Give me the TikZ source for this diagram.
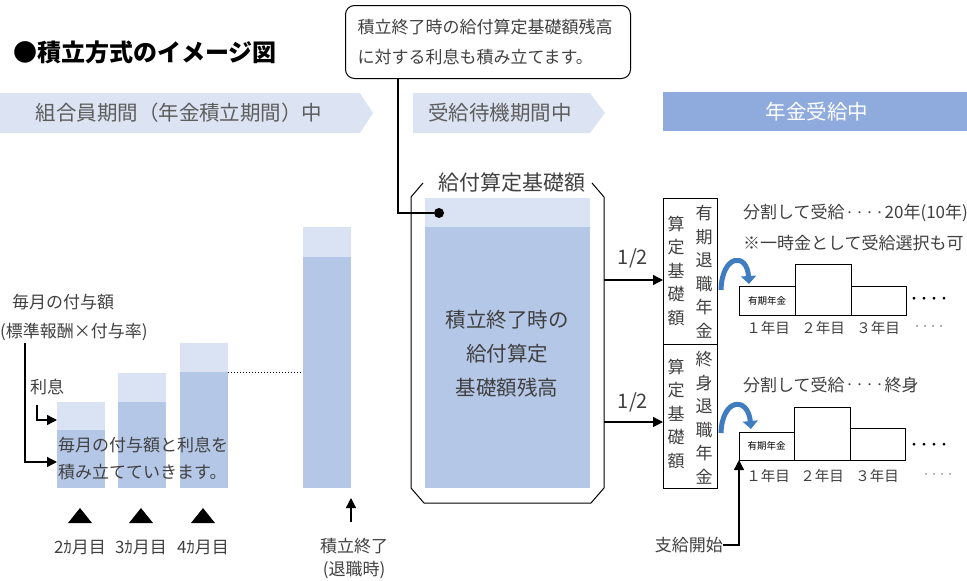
\documentclass[tikz,border=0pt]{standalone}
\usepackage{fontspec}
\setmainfont{Noto Sans CJK JP}
\usetikzlibrary{arrows.meta}

\definecolor{bandgray}{HTML}{DCE3F2}
\definecolor{bandblue}{HTML}{8FAADC}
\definecolor{barlight}{HTML}{DAE3F3}
\definecolor{bardark}{HTML}{B4C7E7}
\definecolor{txtgray}{HTML}{404040}
\definecolor{curveblue}{HTML}{3F7CC0}
\newcommand{\fsz}[1]{\fontsize{#1}{#1}\selectfont}
\newcommand{\middots}{{\fsz{10}\raisebox{2.5pt}{・・・・}}}

\tikzset{
  lbl/.style={text=txtgray, inner sep=0pt, font=\fsz{17}},
  bandtext/.style={text=txtgray!85, inner sep=0pt, font=\fsz{20.5}},
  vtext/.style={text=txtgray, inner sep=0pt, align=center,
    font=\fontsize{17}{23.5}\selectfont},
  bar/.style={minimum width=48pt, inner sep=0pt, outer sep=0pt},
  vbox/.style={draw, line width=1pt, minimum width=54pt, minimum height=145pt,
    inner sep=0pt, outer sep=0pt, anchor=north west},
  ptr/.style={line width=1.3pt, -{Triangle[length=10pt,width=10pt]}},
  curvy/.style={line width=5pt, curveblue, -{Triangle[length=8pt,width=15pt]}},
  stair/.style={line width=1pt}
}

\begin{document}
\begin{tikzpicture}[x=1pt, y=-1pt]
  \useasboundingbox (0,0) rectangle (967,581);

  % Draw the title
  \node[anchor=west, inner sep=0pt, font=\fsz{24}\bfseries] (title) at (13,52) {●積立方式のイメージ図};

  % Draw the three period bands
  \fill[bandgray] (0,93) -- (360,93) -- (373,113) -- (360,133) -- (0,133) -- cycle;
  \node[bandtext] (bandA) at (179,113) {組合員期間（年金積立期間）中};
  \fill[bandgray] (413,93) -- (590,93) -- (605,113) -- (590,133) -- (413,133) -- cycle;
  \node[bandtext] (bandB) at (500,113) {受給待機期間中};
  \fill[bandblue] (663,92) rectangle (967,131);
  \node[bandtext, text=white] (bandC) at (817,112) {年金受給中};

  % Draw the callout
  \node[draw, line width=1pt, rounded corners=9pt, anchor=north west, align=left,
    minimum height=73pt, text width=261pt, inner xsep=12pt, text=txtgray,
    font=\fontsize{17}{30}\selectfont] (callout) at (345,5)
    {積立終了時の給付算定基礎額残高\\に対する利息も積み立てます。};

  % Draw the monthly bars
  \node[bar, fill=barlight, minimum height=28pt, anchor=north west] (bar1top) at (57,402) {};
  \node[bar, fill=bardark, minimum height=58pt, anchor=north west] (bar1) at (57,430) {};
  \node[bar, fill=barlight, minimum height=29pt, anchor=north west] (bar2top) at (118,373) {};
  \node[bar, fill=bardark, minimum height=86pt, anchor=north west] (bar2) at (118,402) {};
  \node[bar, fill=barlight, minimum height=29pt, anchor=north west] (bar3top) at (180,343) {};
  \node[bar, fill=bardark, minimum height=116pt, anchor=north west] (bar3) at (180,372) {};
  \node[bar, fill=barlight, minimum height=30pt, anchor=north west] (bar4top) at (303,227) {};
  \node[bar, fill=bardark, minimum height=231pt, anchor=north west] (bar4) at (303,257) {};
  \draw[dotted, line width=1pt] (bar3.north east) -- (bar3.north east -| bar4.west);

  % Labels on the left
  \node[lbl, anchor=west] (pay) at (12,302) {毎月の付与額};
  \node[lbl, anchor=west] (payrate) at (0,332) {(標準報酬×付与率)};
  \node[lbl, anchor=west] (interest) at (30,387) {利息};
  \coordinate (payfoot) at (25,343);
  \coordinate (intfoot) at (37,405);
  \draw[ptr] (payfoot) |- ([yshift=-3pt]bar1.west);
  \draw[ptr] (intfoot) |- ([yshift=-4pt]bar1top.west);
  \node[lbl, anchor=west] (accum1) at (58,445) {毎月の付与額と利息を};
  \node[lbl, anchor=west] (accum2) at (58,472) {積み立てていきます。};

  % Month markers
  \foreach \x/\m in {80/2, 141/3, 203/4} {
    \fill (\x-12,523) -- (\x+12,523) -- (\x,508) -- cycle;
    \node[lbl] (month\m) at (\x,547) {\m ｶ月目};
  }

  % End of accumulation
  \node[lbl] (endlbl) at (354,546) {積立終了};
  \node[lbl] (endsub) at (354,570) {(退職時)};
  \coordinate (endtail) at (351,522);
  \draw[ptr] (endtail) -- ++(0,-24);

  % Draw the benefit base box
  \fill[barlight] (425,198) rectangle (590,227);
  \fill[bardark] (425,227) rectangle (590,488);
  \draw[line width=1pt] (423,183) -- (411,197) -- (411,488) -- (424,503)
    -- (591,503) -- (604,488) -- (604,197) -- (592,183);
  \node[lbl, font=\fsz{21}] (basetitle) at (512,183) {給付算定基礎額};
  \node[lbl, align=center, font=\fontsize{20.5}{34}\selectfont] (basetext) at (507,354)
    {積立終了時の\\給付算定\\基礎額残高};
  \node[circle, fill, inner sep=0pt, minimum size=10pt] (dot) at (439,213) {};
  \draw[line width=1.3pt] (callout.south west) ++(53,0) |- (dot);

  % Draw the two vertical boxes
  \node[vbox, minimum height=146pt] (fixbox) at (663,198) {};
  \node[vbox, minimum height=144pt] (lifebox) at (663,344) {};
  \node[vtext] at (676,271) {算\\定\\基\\礎\\額};
  \node[vtext] at (704,272) {有\\期\\退\\職\\年\\金};
  \node[vtext] at (676,414) {算\\定\\基\\礎\\額};
  \node[vtext] at (704,418) {終\\身\\退\\職\\年\\金};

  % Split arrows
  \coordinate (splitA) at (604,280);
  \coordinate (splitB) at (604,422);
  \draw[ptr] (splitA) -- (splitA -| fixbox.west);
  \draw[ptr] (splitB) -- (splitB -| lifebox.west);
  \node[lbl, font=\fsz{20}] (halfA) at (633,258) {1/2};
  \node[lbl, font=\fsz{20}] (halfB) at (633,402) {1/2};

  % Curved arrows
  \draw[curvy] (721,290) .. controls (722,254) and (747,252) .. (749,284);
  \draw[curvy] (721,433) .. controls (722,398) and (748,396) .. (751,429);

  % Fixed-term pension payments
  \node[lbl, anchor=west] (fixnote1) at (743,213) {分割して受給\middots 20年(10年)};
  \node[lbl, anchor=west] (fixnote2) at (743,243) {※一時金として受給選択も可};
  \draw[stair] (739,286) rectangle (795,315);
  \draw[stair] (795,264) rectangle (851,315);
  \draw[stair] (851,286) rectangle (906,315);
  \node[inner sep=0pt, font=\fsz{9.5}] (fixy1) at (767,301) {有期年金};
  \node[inner sep=0pt, font=\fsz{10}\bfseries] at (929,300) {・・・・};
  \node[lbl, font=\fsz{14.5}] at (768,328) {１年目};
  \node[lbl, font=\fsz{14.5}] at (823,328) {２年目};
  \node[lbl, font=\fsz{14.5}] at (878,328) {３年目};
  \node[lbl, font=\fsz{8}, text=txtgray!80] at (929,328) {・・・・};

  % Life pension payments
  \node[lbl, anchor=west] (lifenote) at (743,385) {分割して受給\middots 終身};
  \node[stair, draw, minimum width=55pt, minimum height=28pt, inner sep=0pt,
    outer sep=0pt, anchor=north west, font=\fsz{9.5}] (lifey1) at (739,432) {有期年金};
  \draw[stair] (794,407) rectangle (850,460);
  \draw[stair] (850,428) rectangle (905,460);
  \node[inner sep=0pt, font=\fsz{10}\bfseries] at (929,446) {・・・・};
  \node[lbl, font=\fsz{14.5}] at (768,476) {１年目};
  \node[lbl, font=\fsz{14.5}] at (822,476) {２年目};
  \node[lbl, font=\fsz{14.5}] at (877,476) {３年目};
  \node[lbl, font=\fsz{8}, text=txtgray!70] at (938,476) {・・・・};

  % Payment start
  \node[lbl, anchor=east] (paystart) at (723,545) {支給開始};
  \draw[ptr] (paystart.east) -| (lifey1.south west);
\end{tikzpicture}
\end{document}
